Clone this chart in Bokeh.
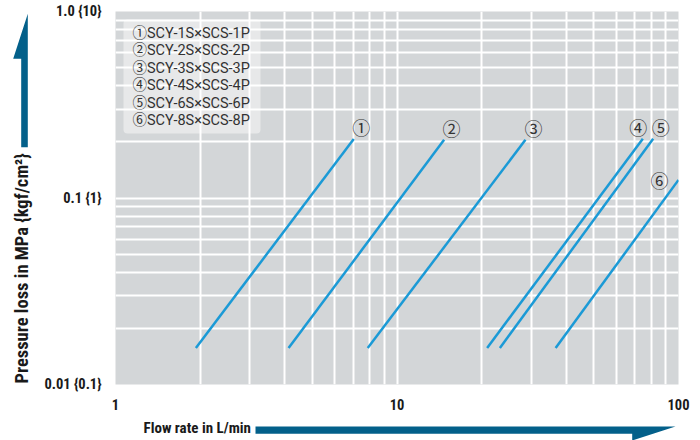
from bokeh.plotting import figure
from bokeh.layouts import column, row
from bokeh.models import (ColumnDataSource, FixedTicker, Label, BoxAnnotation,
                          Range1d)
from bokeh.core.properties import value
from bokeh.embed import file_html
from bokeh.resources import INLINE
from math import pi

# ---- data ----
series_names = ["SCY-1S×SCS-1P", "SCY-2S×SCS-2P", "SCY-3S×SCS-3P",
                "SCY-4S×SCS-4P", "SCY-6S×SCS-6P", "SCY-8S×SCS-8P"]
series_marks = ["①", "②", "③", "④", "⑤", "⑥"]
flow_start = [1.93, 4.12, 7.87, 20.9, 23.2, 36.6]      # L/min
flow_end = [7.02, 14.7, 28.6, 74.7, 81.3, 100.0]      # L/min
loss_start = [0.0157, 0.0157, 0.0157, 0.0157, 0.0157, 0.0157]  # MPa
loss_end = [0.207, 0.205, 0.205, 0.208, 0.208, 0.125]          # MPa

x_ticks = [1, 10, 100]
x_tick_labels = ["1", "10", "100"]
y_ticks = [0.01, 0.1, 1.0]
y_tick_labels = ["0.01 {0.1}", "0.1 {1}", "1.0 {10}"]

x_title = "Flow rate in L/min"
y_title = "Pressure loss in MPa {kgf/cm²}"

# ---- styles / layout ----
BG = "#d3d6d8"
BLUE = "#1b9ad6"
ARROW = "#03608a"
TXT = "#1a1a1a"
COND = "'Liberation Sans Narrow', 'Roboto Condensed', 'Liberation Sans', sans-serif"
CJK = "'Noto Sans CJK JP'"

TOTAL_W, LEFT_W = 700, 40
TOP_H, BOT_H = 412, 28
FRAME_TOP, FRAME_BOTTOM = 11, 384


def blank(w, h, top=0, bottom=0, y0=0, y1=None):
    y1 = h if y1 is None else y1
    f = figure(width=w, height=h, x_range=Range1d(0, w), y_range=Range1d(y1, y0),
               output_backend="svg", toolbar_location=None,
               x_axis_location=None, y_axis_location=None,
               min_border=0, min_border_left=0, min_border_right=0,
               min_border_top=top, min_border_bottom=bottom)
    f.grid.visible = False
    f.outline_line_color = None
    f.background_fill_color = "white"
    f.border_fill_color = "white"
    return f


# ---- main chart ----
p = figure(width=TOTAL_W - LEFT_W, height=TOP_H, x_axis_type="log", y_axis_type="log",
           x_range=Range1d(1, 100), y_range=Range1d(0.01, 1.0),
           output_backend="svg", toolbar_location=None,
           min_border_left=115 - LEFT_W, min_border_right=22,
           min_border_top=FRAME_TOP, min_border_bottom=TOP_H - FRAME_BOTTOM)
p.background_fill_color = BG
p.border_fill_color = "white"
p.outline_line_color = None


def minors(ticks):
    out = []
    for t in ticks[:-1]:
        out += [t * m for m in range(2, 10)]
    return out


p.xaxis.ticker = FixedTicker(ticks=x_ticks, minor_ticks=minors(x_ticks))
p.yaxis.ticker = FixedTicker(ticks=y_ticks, minor_ticks=minors(y_ticks))
p.xaxis.major_label_overrides = {t: s for t, s in zip(x_ticks, x_tick_labels)}
p.yaxis.major_label_overrides = {t: s for t, s in zip(y_ticks, y_tick_labels)}

for ax in (p.xaxis, p.yaxis):
    ax.axis_line_color = None
    ax.major_tick_line_color = None
    ax.minor_tick_line_color = None
    ax.major_label_text_font = COND
    ax.major_label_text_font_style = "bold"
    ax.major_label_text_font_size = "14.5px"
    ax.major_label_text_color = TXT
    ax.major_label_standoff = 8

for g in (p.xgrid, p.ygrid):
    g.grid_line_color = "white"
    g.grid_line_width = 2
    g.grid_line_alpha = 1
    g.minor_grid_line_color = "white"
    g.minor_grid_line_width = 2

# legend box (drawn behind the lines)
p.add_layout(BoxAnnotation(left=83, right=220, top=19, bottom=133,
                           left_units="canvas", right_units="canvas",
                           top_units="canvas", bottom_units="canvas",
                           fill_color="white", fill_alpha=0.45, line_color=None,
                           border_radius=4, level="underlay"))
for i in range(len(series_names)):
    p.add_layout(Label(x=92, y=33 + i * 17.4, x_units="canvas", y_units="canvas",
                       text=series_marks[i] + series_names[i],
                       text_font="Roboto, " + CJK, text_font_size="14.5px",
                       text_color="#333333", text_baseline="middle",
                       text_align="left"))

# ---- lines ----
for i in range(len(series_names)):
    src = ColumnDataSource(dict(x=[flow_start[i], flow_end[i]],
                                y=[loss_start[i], loss_end[i]]))
    p.line("x", "y", source=src, line_color=BLUE, line_width=2.5)

# circled labels near the line ends
lab_dx = [7.5, 7.5, 8, -4.5, 7.5, -19]
lab_dy = [-12, -12, -12, -12, -12, 0.5]
lab_src = ColumnDataSource(dict(x=flow_end, y=loss_end, t=series_marks,
                                dx=lab_dx, dy=lab_dy))
p.text("x", "y", text="t", source=lab_src, x_offset="dx", y_offset="dy",
       text_align="center", text_baseline="middle",
       text_font=value(CJK), text_font_size="18px",
       text_color="#333333")

# ---- left strip: vertical title + arrow (frame aligned with the chart frame;
#      its y range is set so that units equal page pixels) ----
left = blank(LEFT_W, TOP_H, top=FRAME_TOP, bottom=TOP_H - FRAME_BOTTOM,
             y0=FRAME_TOP, y1=FRAME_BOTTOM)
left.patch([27.3, 12.7, 20.7, 20.7, 27.3], [13.3, 58.3, 58.3, 146.7, 146.7],
           fill_color=ARROW, line_color=None)
left.text([21], [383], text=[y_title], angle=pi / 2,
          text_font=value(COND), text_font_style="bold",
          text_font_size="18.5px", text_color=TXT,
          text_baseline="middle", text_align="left")

# ---- bottom strip: horizontal title + arrow ----
bottom = blank(TOTAL_W, BOT_H)
bottom.patch([255, 675, 631.7, 631.7, 255], [14, 14, 28, 21.3, 21.3],
             fill_color=ARROW, line_color=None)
bottom.text([143], [15], text=[x_title],
            text_font=value(COND), text_font_style="bold",
            text_font_size="15px", text_color=TXT,
            text_baseline="middle", text_align="left")

layout = column(row(left, p, spacing=0), bottom, spacing=0)
open("out.html", "w").write(file_html(layout, INLINE))
